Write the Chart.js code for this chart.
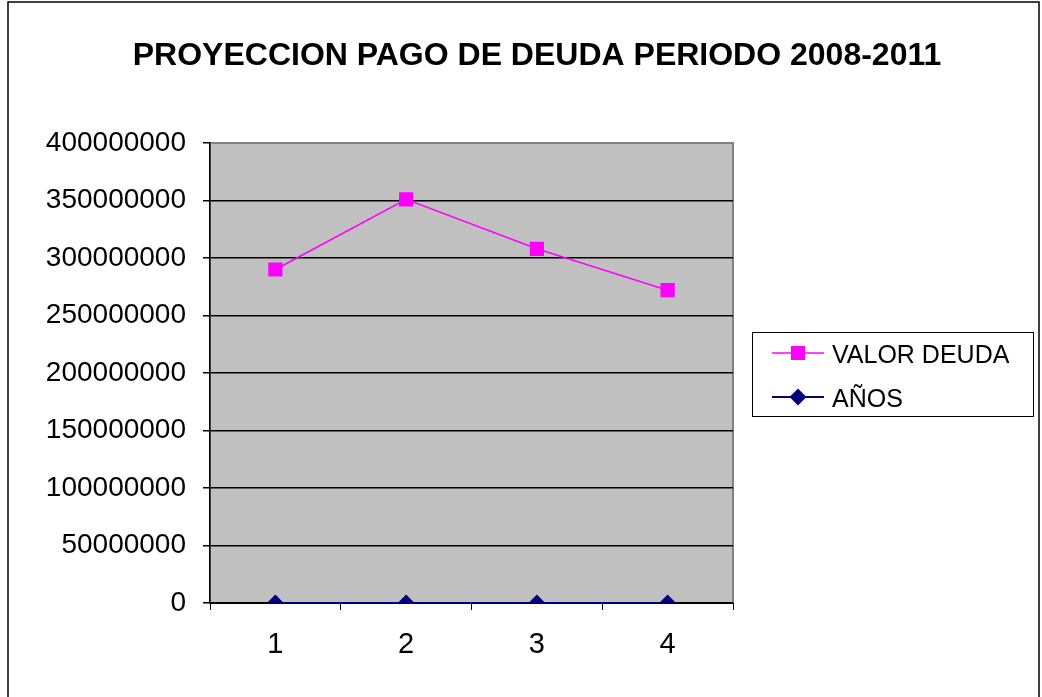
<!DOCTYPE html>
<html>
<head>
<meta charset="utf-8">
<script src="https://cdn.jsdelivr.net/npm/chart.js@4.4.0/dist/chart.umd.min.js"></script>
<style>
  html, body { margin: 0; padding: 0; background: #fff; }
  #wrap { width: 1042px; height: 697px; }
</style>
</head>
<body>
<div id="wrap"><canvas id="deuda" width="1042" height="697"></canvas></div>
<script>
const periodos = ['1', '2', '3', '4'];
const valorDeuda = [290000000, 351000000, 308000000, 272000000];
const anios = [2008, 2009, 2010, 2011];
const yMax = 400000000;
const yStep = 50000000;
const titulo = 'PROYECCION PAGO DE DEUDA PERIODO 2008-2011';

// fondo gris, marco del grafico y titulo
const marco = {
  id: 'marco',
  beforeDraw(chart) {
    const c = chart.ctx, a = chart.chartArea;
    c.save();
    c.fillStyle = '#fff';
    c.fillRect(0, 0, chart.width, chart.height);
    c.strokeStyle = '#000';
    c.lineWidth = 1.5;
    c.beginPath();
    c.moveTo(8, 697);
    c.lineTo(8, 2);
    c.lineTo(1039, 2);
    c.lineTo(1039, 697);
    c.stroke();
    c.fillStyle = '#c0c0c0';
    c.fillRect(a.left, a.top, a.right - a.left, a.bottom - a.top);
    c.strokeStyle = '#808080';
    c.lineWidth = 2;
    c.strokeRect(a.left, a.top, a.right - a.left, a.bottom - a.top);
    c.fillStyle = '#000';
    c.font = 'bold 32px "Liberation Sans", Arial';
    c.textAlign = 'center';
    c.textBaseline = 'alphabetic';
    c.fillText(titulo, 537, 65);
    c.restore();
  },
  afterDraw(chart) {
    // leyenda a la derecha
    const c = chart.ctx;
    c.save();
    c.strokeStyle = '#000';
    c.lineWidth = 1;
    c.strokeRect(752.5, 332.5, 281, 84);
    chart.data.datasets.forEach((ds, i) => {
      const y = 353 + i * 44;
      c.strokeStyle = ds.borderColor;
      c.lineWidth = ds.borderWidth;
      c.beginPath();
      c.moveTo(772, y);
      c.lineTo(824, y);
      c.stroke();
      Chart.helpers.drawPoint(c, {
        pointStyle: ds.pointStyle, radius: ds.pointRadius, borderWidth: 1
      }, 798, y);
      c.fillStyle = ds.backgroundColor;
      c.fill();
      c.fillStyle = '#000';
      c.font = '25px "Liberation Sans", Arial';
      c.textAlign = 'left';
      c.textBaseline = 'alphabetic';
      c.fillText(ds.label, 832, y + 10);
    });
    c.restore();
  }
};

const chart = new Chart(document.getElementById('deuda'), {
  type: 'line',
  data: {
    labels: periodos,
    datasets: [{
      label: 'VALOR DEUDA',
      data: valorDeuda,
      borderColor: '#ff00ff',
      backgroundColor: '#ff00ff',
      borderWidth: 1.5,
      pointStyle: 'rect',
      pointRadius: 9,
      pointHoverRadius: 9,
      tension: 0
    }, {
      label: 'AÑOS',
      data: anios,
      borderColor: '#000080',
      backgroundColor: '#000080',
      borderWidth: 2,
      pointStyle: 'rectRot',
      pointRadius: 7,
      pointHoverRadius: 7,
      tension: 0
    }]
  },
  options: {
    responsive: false,
    animation: false,
    layout: { padding: { left: 0, top: 143, right: 309, bottom: 0 } },
    plugins: {
      legend: { display: false },
      title: { display: false },
      tooltip: { enabled: false }
    },
    scales: {
      x: {
        offset: true,
        grid: { offset: true, drawOnChartArea: false, drawTicks: true, tickLength: 7, tickColor: '#000' },
        border: { color: '#000', width: 1 },
        ticks: { color: '#000', padding: 18, font: { family: '"Liberation Sans", Arial', size: 29 } },
        afterFit(s) { s.height = 94; }
      },
      y: {
        min: 0,
        max: yMax,
        ticks: {
          stepSize: yStep,
          color: '#000',
          padding: 17,
          font: { family: '"Liberation Sans", Arial', size: 28 },
          callback: v => String(v)
        },
        grid: {
          color: ctx => ctx.tick && ctx.tick.value === yMax ? '#808080' : '#000',
          tickColor: '#000',
          tickLength: 7,
          lineWidth: 1.5
        },
        border: { color: '#000', width: 1.5 },
        afterFit(s) { s.width = 210; }
      }
    }
  },
  plugins: [marco]
});
</script>
</body>
</html>
